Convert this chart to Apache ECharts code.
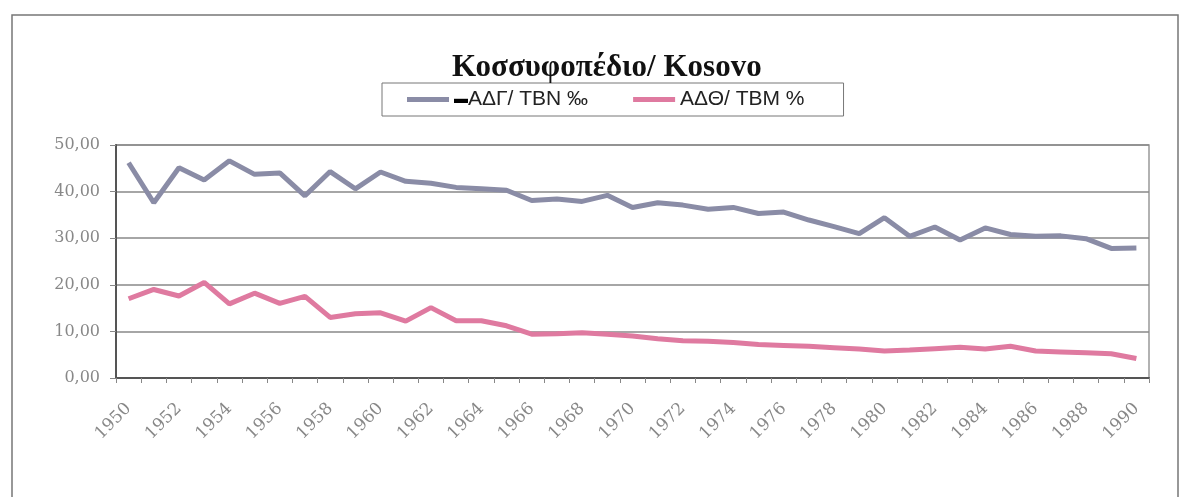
<!DOCTYPE html>
<html lang="el">
<head>
  <meta charset="UTF-8">
  <title>Κοσσυφοπέδιο/ Kosovo</title>
  <script src="https://cdn.jsdelivr.net/npm/echarts@6/dist/echarts.min.js"></script>
  <style>
    html, body { margin: 0; padding: 0; background: #fff; }
    #chart { width: 1191px; height: 497px; }
  </style>
</head>
<body>
  <div id="chart"></div>
  <script>
    // years 1950..1990
    const years = [];
    for (let y = 1950; y <= 1990; y++) years.push(String(y));

    // birth rate (ΑΔΓ/ TBN ‰)
    const birthRate = [
      46.2, 37.6, 45.1, 42.5, 46.6, 43.7, 44.0, 39.1, 44.3, 40.6,
      44.2, 42.2, 41.8, 40.9, 40.6, 40.3, 38.1, 38.4, 37.9, 39.2,
      36.6, 37.6, 37.1, 36.2, 36.6, 35.3, 35.6, 33.9, 32.5, 31.0,
      34.4, 30.4, 32.4, 29.6, 32.2, 30.8, 30.4, 30.5, 29.9, 27.8,
      27.9
    ];
    // death rate (ΑΔΘ/ TBM ‰)
    const deathRate = [
      17.0, 19.0, 17.6, 20.5, 15.9, 18.2, 16.0, 17.5, 13.0, 13.8,
      14.0, 12.2, 15.1, 12.3, 12.3, 11.2, 9.4, 9.5, 9.7, 9.4,
      9.0, 8.4, 8.0, 7.9, 7.6, 7.2, 7.0, 6.8, 6.5, 6.2,
      5.8, 6.0, 6.3, 6.6, 6.2, 6.8, 5.8, 5.6, 5.4, 5.2,
      4.2
    ];
    const seriesNames = ['ΑΔΓ/ TBN ‰', 'ΑΔΘ/ TBM %'];

    const chart = echarts.init(document.getElementById('chart'));
    const option = {
      backgroundColor: '#fff',
      animation: false,
      title: {
        text: 'Κοσσυφοπέδιο/ Kosovo',
        left: 447,
        top: 47,
        textStyle: { fontFamily: 'Liberation Serif', fontWeight: 'bold', fontSize: 31, color: '#111' }
      },
      legend: {
        left: 382,
        top: 83,
        padding: [6, 39, 6, 25],
        itemGap: 45,
        itemWidth: 42,
        itemHeight: 5,
        borderColor: '#777',
        borderWidth: 1,
        icon: 'rect',
        data: seriesNames,
        formatter: function (name) {
          return name === seriesNames[0] ? '{d|▬}' + name : name;
        },
        textStyle: {
          fontFamily: 'Liberation Sans', fontSize: 21, color: '#222',
          rich: { d: { fontSize: 14, color: '#000' } }
        }
      },
      grid: {
        left: 116, right: 42, top: 145, bottom: 119,
        show: true, borderColor: '#999', borderWidth: 1.5
      },
      graphic: [{
        type: 'rect',
        shape: { x: 12, y: 15, width: 1166, height: 500 },
        style: { fill: 'none', stroke: '#777', lineWidth: 1.5 },
        silent: true
      }],
      xAxis: {
        type: 'category',
        data: years,
        boundaryGap: true,
        axisLine: { lineStyle: { color: '#555', width: 2 } },
        axisTick: { show: true, interval: 0, length: 5, lineStyle: { color: '#888' } },
        axisLabel: {
          interval: 1,
          rotate: 45,
          margin: 28,
          fontFamily: 'DejaVu Serif',
          fontSize: 17,
          color: '#888'
        }
      },
      yAxis: {
        type: 'value',
        min: 0,
        max: 50,
        interval: 10,
        axisLine: { show: true, lineStyle: { color: '#555', width: 2 } },
        axisTick: { show: true, length: 6, lineStyle: { color: '#888' } },
        splitLine: { lineStyle: { color: '#888', width: 1.5 } },
        axisLabel: {
          margin: 16,
          fontFamily: 'DejaVu Serif',
          fontSize: 16,
          color: '#888',
          formatter: v => v.toFixed(2).replace('.', ',')
        }
      },
      series: [
        {
          name: seriesNames[0],
          type: 'line',
          data: birthRate,
          symbol: 'none',
          lineStyle: { color: '#8a8ca6', width: 5 },
          itemStyle: { color: '#8a8ca6' }
        },
        {
          name: seriesNames[1],
          type: 'line',
          data: deathRate,
          symbol: 'none',
          lineStyle: { color: '#df7aa0', width: 5 },
          itemStyle: { color: '#df7aa0' }
        }
      ]
    };
    chart.setOption(option);
  </script>
</body>
</html>
